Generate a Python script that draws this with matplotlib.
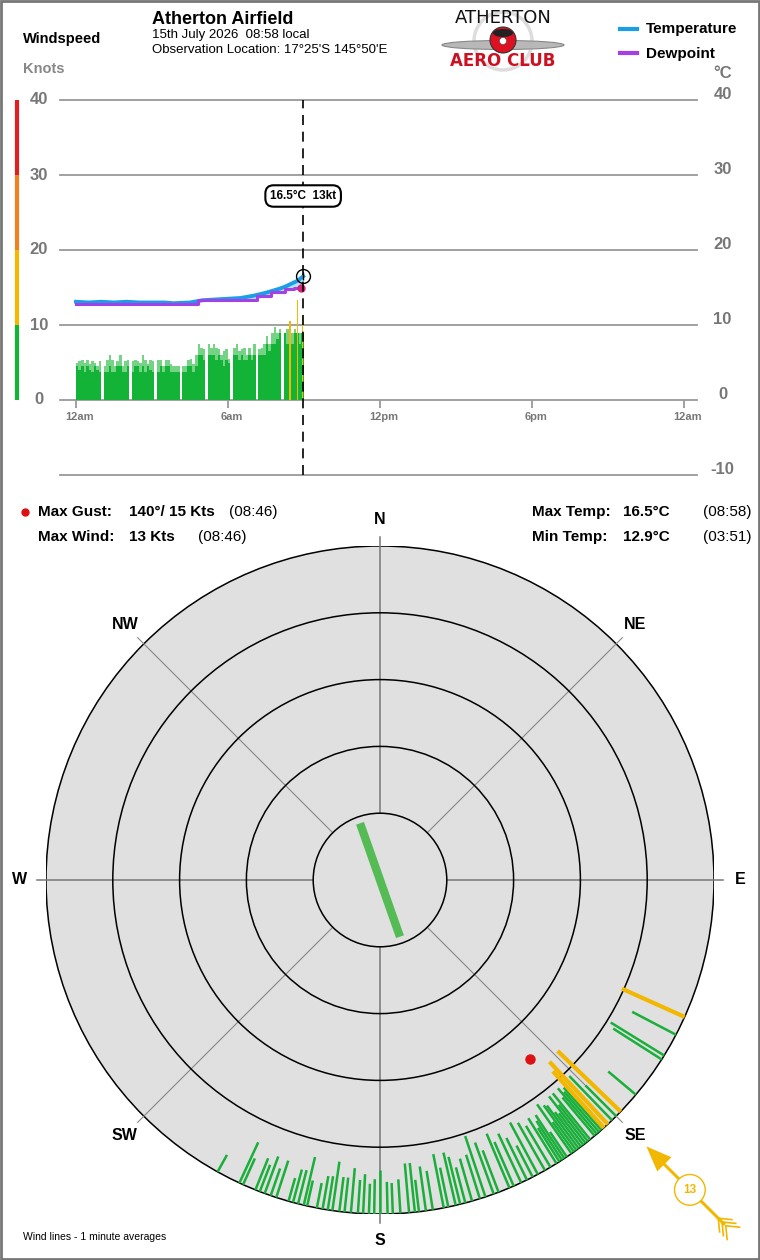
import numpy as np
import matplotlib
matplotlib.use('Agg')
import matplotlib.pyplot as plt
from matplotlib.patches import Circle, Rectangle, Ellipse, FancyArrow

plt.rcParams['font.family'] = ['Liberation Sans', 'DejaVu Sans']

# ---------------- data ----------------
hours = [0, 6, 12, 18, 24]
hour_labels = ['12am', '6am', '12pm', '6pm', '12am']
now_h = 8.97  # 08:58 local

# wind in 6 minute bins from midnight (knots), 0 = no data
wind = [4.5, 4.0, 4.5, 3.8, 4.5, 4.0, 3.8, 4.5, 4.0, 3.8,
        0,
        3.8, 3.8, 4.5, 3.8, 3.8, 4.5, 4.5, 3.8, 3.8, 4.5,
        0,
        3.8, 4.5, 4.5, 3.8, 4.5, 3.8, 4.5, 4.0, 3.8,
        0,
        3.8, 4.5, 3.8, 4.5, 4.5, 3.8, 3.8, 3.8, 3.8,
        0,
        3.8, 3.8, 4.5, 4.5, 3.8, 4.5, 6.0, 6.0, 5.3,
        0,
        6.0, 6.0, 6.0, 5.3, 6.0, 5.3, 4.5, 5.3, 5.0,
        0,
        6.0, 6.0, 5.3, 6.0, 5.3, 5.3, 6.0, 5.3, 6.0,
        0,
        6.0, 6.0, 6.0, 7.5, 6.5, 7.5, 7.5, 8.2, 8.9,
        0,
        8.9, 7.5, 8.9, 7.5, 8.9, 8.9, 7.5, 8.9]
gust = [5.0, 5.2, 5.3, 5.0, 5.3, 4.8, 5.2, 5.0, 4.5, 5.2,
        0,
        4.5, 5.3, 6.0, 5.3, 4.5, 5.2, 6.0, 4.5, 5.2, 5.3,
        0,
        5.2, 5.3, 5.2, 5.0, 6.0, 5.3, 4.8, 5.3, 5.2,
        0,
        5.3, 5.3, 4.5, 5.3, 5.3, 4.8, 4.5, 4.5, 4.5,
        0,
        4.5, 4.5, 5.3, 5.5, 4.8, 6.0, 7.5, 7.0, 6.8,
        0,
        7.5, 7.0, 7.5, 7.0, 6.8, 6.0, 6.5, 6.8, 5.5,
        0,
        7.0, 7.5, 6.5, 6.8, 7.0, 6.0, 7.0, 6.0, 7.5,
        0,
        6.8, 7.0, 7.5, 8.5, 7.5, 9.0, 9.7, 9.0, 9.5,
        0,
        9.0, 9.5, 10.5, 9.0, 9.5, 13.4, 9.0, 11.2]
bin_h = 0.1

temp_t = [0, 0.5, 1, 1.5, 2, 2.5, 3, 3.5, 3.85, 4.5, 5, 5.5, 6, 6.5, 7, 7.5,
          8, 8.25, 8.5, 8.75, 8.97]
temp = [13.1, 13.0, 13.1, 13.0, 13.1, 13.0, 13.0, 13.0, 12.9, 13.0, 13.3, 13.4,
        13.5, 13.6, 13.9, 14.3, 14.8, 15.1, 15.5, 15.9, 16.5]
dew_t = [0, 4.83, 7.15, 7.7, 8.25, 8.6, 8.88]
dew = [12.8, 13.3, 13.9, 14.4, 14.8, 15.0, 15.0]

speed_bands = [0, 10, 20, 30, 40]
band_colors = ['#12b336', '#f5b800', '#f08020', '#e02020']
temp_ticks = [-10, 0, 10, 20, 30, 40]

# compass: 1 minute averages, bearing (deg) and speed (kt)
line_dir = [209.1, 204.9, 204.2, 201.9, 201.1, 200.2, 199.1, 198.1, 195.9, 195.1,
            194.2, 193.2, 192.6, 190.9, 189.9, 189.0, 188.2, 187.0, 186.1, 185.0,
            183.8, 182.9, 181.9, 181.0, 180.0, 178.7, 177.8, 176.5, 175.0, 174.0,
            173.3, 172.1, 170.9, 169.0, 168.2, 166.9, 166.1, 165.2, 164.0, 162.6,
            161.6, 160.1, 159.2, 157.2, 156.4, 155.0, 153.9, 152.8, 151.8, 150.4,
            149.3, 148.1, 147.5, 147.0, 146.5, 146.0, 145.0, 144.5, 144.0, 143.5,
            143.0, 142.5, 142.0, 141.5, 141.0, 140.0, 139.5, 139.0, 138.5, 138.0,
            137.0, 136.0, 135.0, 130.0, 122.5, 121.7, 117.6,
            114.2, 133.9, 137.0, 137.9]
line_spd = [2.9, 6.7, 4.3, 5.1, 4.3, 5.9, 4.3, 5.8, 3.6, 5.1,
            5.2, 7.4, 3.9, 3.8, 5.0, 5.1, 7.4, 5.2, 5.2, 6.7,
            5.0, 5.9, 4.5, 5.2, 6.6, 4.8, 4.6, 5.1, 7.4, 7.4,
            4.8, 6.7, 5.9, 8.2, 6.0, 8.1, 7.3, 5.5, 6.6, 6.9,
            9.6, 8.2, 6.7, 8.8, 7.2, 8.1, 7.0, 5.3, 8.8, 8.2,
            7.2, 8.0, 6.0, 7.0, 7.8, 4.5, 9.0, 5.5, 8.3, 8.0,
            6.5, 6.0, 8.9, 7.0, 8.9, 7.5, 9.0, 8.0, 8.5, 6.0,
            7.0, 9.2, 6.5, 5.4, 8.6, 9.4, 7.4,
            10.3, 13.1, 12.8, 11.4]
gust_dir, gust_spd, gust_time = 140, 15, '08:46'
maxw_spd, maxw_time = 13, '08:46'
tmax_time, tmin_time = '08:58', '03:51'
mean_dir, mean_len = 160.6, 9
last_dir, last_spd = 135, 13
compass_names = ['N', 'NE', 'E', 'SE', 'S', 'SW', 'W', 'NW']

# ---------------- figure ----------------
W, H = 760, 1260
fig = plt.figure(figsize=(W / 100, H / 100), dpi=100)


def fbox(x0, y0, x1, y1):
    return [x0 / W, 1 - y1 / H, (x1 - x0) / W, (y1 - y0) / H]


bg = fig.add_axes([0, 0, 1, 1])
bg.set_xlim(0, W)
bg.set_ylim(H, 0)
bg.axis('off')
bg.add_patch(Rectangle((1, 1), W - 2, H - 2, fill=False, ec='#777777', lw=2))

# header
bg.text(23, 39, 'Windspeed', fontsize=10.5, fontweight='bold', va='center')
bg.text(23, 69, 'Knots', fontsize=10.5, fontweight='bold', color='#888888', va='center')
bg.text(152, 19, 'Atherton Airfield', fontsize=13, fontweight='bold', va='center')
bg.text(152, 35, '15th July 2026  08:58 local', fontsize=9.5, va='center')
bg.text(152, 50, "Observation Location: 17°25'S 145°50'E", fontsize=9.5, va='center')

# logo (rough)
bg.add_patch(Circle((503, 41), 29, fill=False, ec='#dddddd', lw=2.5))
bg.add_patch(Ellipse((503, 45), 122, 9, fc='#b8b8b8', ec='#888888', lw=0.8))
bg.add_patch(Circle((503, 40), 13, fc='#dd1122', ec='#333333', lw=0.8))
bg.add_patch(Ellipse((503, 33), 20, 8, fc='#222222', lw=0))
bg.add_patch(Circle((503, 41), 3.5, fc='white', ec='#555555', lw=0.5))
bg.text(503, 18, 'ATHERTON', fontsize=13, family='DejaVu Sans', color='#111111',
        ha='center', va='center', fontweight='medium')
bg.text(503, 61, 'AERO CLUB', fontsize=12, family='DejaVu Sans', color='#cc1122',
        ha='center', va='center', fontweight='bold')

# legend
bg.plot([620, 637], [29, 29], color='#1a9ee6', lw=3)
bg.text(646, 29, 'Temperature', fontsize=11, fontweight='bold', va='center')
bg.plot([620, 637], [53, 53], color='#a53fe6', lw=3)
bg.text(646, 54, 'Dewpoint', fontsize=11, fontweight='bold', va='center')

# ---------------- time chart ----------------
ax = fig.add_axes(fbox(60, 100, 697, 475))
ax.set_xlim(-0.63, 24.52)
ax.set_ylim(-10, 40)
ax.axis('off')

for v in temp_ticks:
    ax.axhline(v, color='#999999', lw=1.3, clip_on=False, zorder=1)

bins = np.arange(len(wind)) * bin_h
gust = np.array(gust)
wind = np.array(wind)
light = np.where(gust < 10, gust, 0)
ax.bar(bins, light, width=bin_h, align='edge', color='#74d385', lw=0, zorder=2)
ax.bar(bins, wind, width=bin_h, align='edge', color='#12b336', lw=0, zorder=3)
hi = gust >= 10
ax.bar(bins[hi] + bin_h / 2, gust[hi], width=0.06, color='#f5b800', lw=0, zorder=4)

temp_t = np.array(temp_t)
dew_at = np.array(dew)[np.searchsorted(dew_t, temp_t, side='right') - 1]
ax.fill_between(temp_t, dew_at, temp, color='#b5e3f7', lw=0, zorder=4)
ax.plot(temp_t, temp, color='#1a9ee6', lw=2.8, zorder=5)
ax.step(dew_t, dew, where='post', color='#a53fe6', lw=2.2, zorder=5)
ax.plot(dew_t[-1], dew[-1], 'o', color='#d6247a', ms=5, zorder=6)

ax.plot([now_h, now_h], [-10, 40], color='black', lw=1.2, dashes=(6, 4), zorder=6,
        clip_on=False)
ax.plot(now_h, temp[-1], 'o', mfc='none', mec='black', mew=1, ms=10, zorder=7)
ax.plot(now_h, temp[-1], '|', color='black', ms=6, mew=1, zorder=7)
ax.text(now_h, 27.2, f'{temp[-1]}°C  {last_spd}kt', ha='center', va='center',
        fontsize=8.5, fontweight='bold', zorder=8,
        bbox=dict(boxstyle='round,pad=0.4,rounding_size=0.7', fc='white', ec='black', lw=1.5))

ax.vlines(hours, -1.1, 0, color='#999999', lw=1.3)
for h, lab in zip(hours, hour_labels):
    ax.text(h + 0.15, -2.2, lab, ha='center', va='center', fontsize=8,
            fontweight='bold', color='#777777')

ytr = ax.get_yaxis_transform()
for v in speed_bands:
    ax.text(-0.033, v, str(v), transform=ytr, ha='center', va='center', fontsize=12,
            fontweight='bold', color='#777777')
for v in temp_ticks:
    ax.text(1.04, v + 0.75, str(v), transform=ytr, ha='center', va='center', fontsize=12,
            fontweight='bold', color='#777777')
ax.text(1.04, 43.6, '°C', transform=ytr, ha='center', va='center', fontsize=12,
        fontweight='bold', color='#777777')
for i in range(4):
    ax.plot([-0.0675, -0.0675], [speed_bands[i], speed_bands[i + 1]], transform=ytr,
            color=band_colors[i], lw=3, solid_capstyle='butt', clip_on=False)

# ---------------- stats ----------------
bg.plot(25, 512, 'o', color='#dd1111', ms=5)
st = dict(fontsize=11, va='center')
bg.text(38, 512, 'Max Gust:', fontweight='bold', **st)
bg.text(129, 512, f'{gust_dir}°/ {gust_spd} Kts', fontweight='bold', **st)
bg.text(229, 512, f'({gust_time})', **st)
bg.text(38, 537, 'Max Wind:', fontweight='bold', **st)
bg.text(129, 537, f'{maxw_spd} Kts', fontweight='bold', **st)
bg.text(198, 537, f'({maxw_time})', **st)
bg.text(532, 512, 'Max Temp:', fontweight='bold', **st)
bg.text(623, 512, f'{max(temp)}°C', fontweight='bold', **st)
bg.text(703, 512, f'({tmax_time})', **st)
bg.text(532, 537, 'Min Temp:', fontweight='bold', **st)
bg.text(623, 537, f'{min(temp)}°C', fontweight='bold', **st)
bg.text(703, 537, f'({tmin_time})', **st)

# ---------------- compass ----------------
cx = fig.add_axes(fbox(46, 546, 714, 1214))
cx.set_xlim(-50, 50)
cx.set_ylim(-50, 50)
cx.axis('off')


def pol(b, r):
    a = np.radians(b)
    return r * np.sin(a), r * np.cos(a)


cx.add_patch(Circle((0, 0), 50, fc='#e0e0e0', ec='black', lw=1.1, zorder=1))
for b in range(0, 360, 45):
    x0, y0 = pol(b, 10)
    x1, y1 = pol(b, 51.3)
    main = b % 90 == 0
    cx.plot([x0, x1], [y0, y1], color='#777777' if main else '#888888',
            lw=1.1 if main else 0.8, zorder=2, clip_on=False)
for r in [10, 20, 30, 40]:
    cx.add_patch(Circle((0, 0), r, fill=False, ec='black', lw=1.1, zorder=2))

for b, s in zip(line_dir, line_spd):
    x0, y0 = pol(b, 50)
    x1, y1 = pol(b, 50 - s)
    if s >= 10:
        cx.plot([x0, x1], [y0, y1], color='#f2b700', lw=3, zorder=4, solid_capstyle='butt')
    else:
        cx.plot([x0, x1], [y0, y1], color='#1aae3a', lw=1.8, zorder=3, solid_capstyle='butt')

xa, ya = pol(mean_dir, mean_len)
cx.plot([-xa, xa], [-ya, ya], color='#55bb55', lw=6, solid_capstyle='butt', zorder=5)
xg, yg = pol(gust_dir, 50 - gust_spd)
cx.plot(xg, yg, 'o', color='#dd1111', ms=6.5, zorder=6)

for name, b in zip(compass_names, range(0, 360, 45)):
    x, y = pol(b, 54)
    cx.text(x, y, name, ha='center', va='center', fontsize=11.5, fontweight='bold',
            clip_on=False)

# latest wind arrow
yellow = '#f2b700'
xt, yt = pol(last_dir, 73)
xh, yh = pol(last_dir, 56.4)
cx.add_patch(FancyArrow(xt, yt, xh - xt, yh - yt, width=0.45, head_width=3.0,
                        head_length=3.8, length_includes_head=True, color=yellow,
                        lw=0, clip_on=False, zorder=6))
u = np.array(pol(last_dir, 1.0))
n = np.array([u[1], -u[0]])
for k in range(3):
    base = np.array(pol(last_dir, 71.6 + k * 0.8))
    for sgn in (-1, 1):
        tip = base + 1.6 * u + sgn * 1.3 * n
        cx.plot([base[0], tip[0]], [base[1], tip[1]], color=yellow, lw=1.2,
                clip_on=False, zorder=6)
xc, yc = pol(last_dir, 65.6)
cx.add_patch(Circle((xc, yc), 2.3, fc='white', ec=yellow, lw=1, clip_on=False, zorder=7))
cx.text(xc, yc, str(last_spd), ha='center', va='center', fontsize=8.5, fontweight='bold',
        color=yellow, zorder=8, clip_on=False)

bg.text(23, 1237, 'Wind lines - 1 minute averages', fontsize=7.5, va='center')

fig.savefig('out.png', dpi=100)
